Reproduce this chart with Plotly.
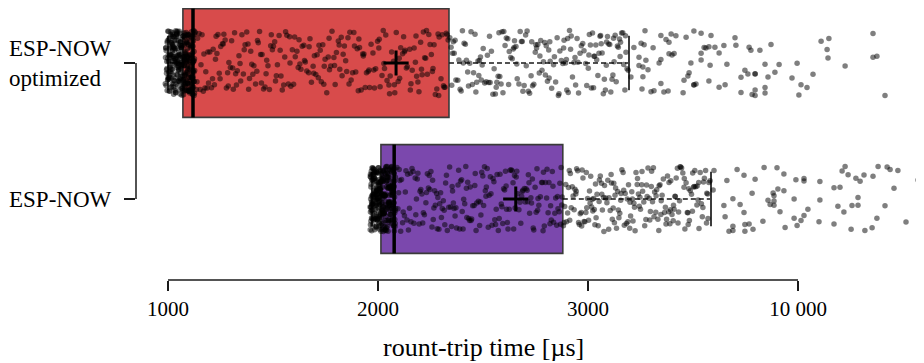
import numpy as np
import plotly.graph_objects as go

# ---------------- data ----------------
categories = ["ESP-NOW<br>optimized", "ESP-NOW"]
box_colors = ["#d84b4b", "#7b48ad"]

q1 = [1071, 2014]
median = [1119, 2077]
q3 = [2338, 2880]
lower_fence = [1000, 1971]
upper_fence = [4367, 7100]
mean = [2086, 2656]

tick_values = [1000, 2000, 3000, 10000]
tick_labels = ["1000", "2000", "3000", "10 000"]

# round-trip samples, ESP-NOW optimized [µs]
opt_cluster = [
    987, 1012, 1035, 1049, 1002, 1058, 1020, 1066, 994, 1041, 1027, 1070, 1008, 1053, 1031, 1016, 1062, 998,
    1045, 1023, 1068, 1004, 1037, 1055, 1013, 1029, 1064, 991, 1047, 1019, 1060, 1033, 1006, 1051, 1025, 1069,
    1010, 1043, 1000, 1057, 1021, 1039, 1065, 996, 1048, 1017, 1061, 1030, 1009, 1054, 1026, 1067, 1003, 1044,
    1036, 1015, 1059, 993, 1050, 1024, 1063, 1007, 1040, 1056, 1018, 1032, 1070, 999, 1046, 1022, 1052, 1011,
    1038, 1066, 989, 1042, 1028, 1060, 1014, 1034, 1057, 1005, 1049, 1020, 1068, 1001, 1044, 1026, 1063, 1010,
    1072, 1098, 1085, 1110, 1077, 1121, 1091, 1104, 1080, 1115, 1088, 1126, 1074, 1101, 1093, 1118, 1083, 1107,
    1076, 1124, 1095, 1112, 1079, 1087, 1103, 1129, 1073, 1116, 1090, 1109, 1082, 1097, 1122, 1075, 1106, 1086,
    1119, 1094, 1078, 1113, 1100, 1127, 1081, 1092, 1108, 1074, 1117, 1089, 1102, 1123, 1084, 1096, 1111, 1077,
    1105, 1125, 1088, 1099, 1114, 1080, 1120, 1093, 1076, 1107, 1085, 1128, 1097, 1112, 1073, 1103, 1091, 1118,
    1082, 1109, 1095, 1124, 1079, 1101, 1115, 1087,
    990, 1015, 1038, 1061, 1083, 1106, 997, 1021, 1044, 1067, 1090, 1113, 1004, 1027, 1050, 1073, 1096, 1119,
    1011, 1034, 1057, 1080, 1102, 1125, 1018, 1041, 1064, 1087, 1109, 993, 1024, 1047, 1070, 1092, 1115, 1001,
    1030, 1053, 1076, 1099, 1121, 1008, 1036, 1059, 1082, 1105, 995, 1013, 1042, 1065, 1088, 1111, 1003, 1019,
    1048, 1071, 1094, 1117, 1010, 1026, 1054, 1077, 1100, 1123, 1016, 1032, 1060, 1083, 1106, 988, 1022, 1039,
    1066, 1089, 1112, 999, 1028, 1045, 1072, 1095, 1118, 1006, 1035, 1051, 1078, 1101, 1124, 1012, 1040, 1058,
    1084, 1108, 991, 1019, 1046, 1063, 1091, 1114, 1002, 1025, 1052, 1069, 1097, 1120, 1009, 1031, 1056, 1075,
    1103, 1126, 1015, 1037, 1062, 1081, 1110, 996, 1023, 1043, 1068, 1086, 1116, 1005, 1029, 1049, 1074, 1093,
    1122, 1014, 1033, 1055, 1079, 1098, 1007, 1020, 1044, 1061, 1085,
]
opt_box = [
    1135, 1148, 1162, 1171, 1186, 1193, 1207, 1215, 1229, 1238, 1244, 1259, 1266, 1278, 1290, 1297, 1311, 1322,
    1330, 1346, 1352, 1367, 1375, 1388, 1394, 1409, 1417, 1430, 1441, 1455, 1462, 1476, 1483, 1497, 1508, 1516,
    1529, 1538, 1551, 1560, 1573, 1585, 1592, 1606, 1614, 1628, 1639, 1647, 1661, 1670, 1683, 1691, 1704, 1716,
    1725, 1737, 1748, 1756, 1769, 1781, 1790, 1802, 1811, 1825, 1834, 1846, 1857, 1866, 1879, 1888, 1901, 1912,
    1920, 1933, 1945, 1953, 1967, 1976, 1989, 1998, 2010, 2019, 2031, 2043, 2052, 2065, 2074, 2087, 2096, 2108,
    2117, 2129, 2140, 2151, 2163, 2172, 2184, 2195, 2203, 2216, 2227, 2235, 2248, 2259, 2267, 2280, 2291, 2300,
    2312, 2325, 2334,
    1141, 1157, 1168, 1180, 1199, 1221, 1233, 1251, 1272, 1284, 1303, 1317, 1338, 1359, 1381, 1399, 1423, 1436,
    1448, 1470, 1489, 1502, 1521, 1544, 1566, 1579, 1598, 1620, 1633, 1654, 1676, 1697, 1710, 1730, 1742, 1763,
    1775, 1796, 1818, 1829, 1851, 1872, 1894, 1906, 1927, 1939, 1960, 1983, 2004, 2025, 2037, 2058, 2080, 2101,
    2122, 2135, 2157, 2178, 2190, 2210, 2222, 2242, 2254, 2273, 2286, 2306, 2319, 2330,
    1138, 1153, 1176, 1190, 1212, 1226, 1248, 1263, 1287, 1308, 1326, 1343, 1363, 1384, 1404, 1426, 1445, 1467,
    1492, 1512, 1534, 1556, 1581, 1603, 1624, 1650, 1672, 1694, 1719, 1744, 1767, 1793, 1815, 1840, 1862, 1885,
    1909, 1930, 1957, 1980, 2006, 2028, 2055, 2078, 2103, 2126, 2154, 2181, 2207, 2231, 2262, 2289, 2315,
]
opt_upper = [
    2342, 2355, 2371, 2380, 2396, 2410, 2421, 2437, 2449, 2462, 2476, 2488, 2501, 2515, 2527, 2540, 2553, 2566,
    2580, 2591, 2605, 2618, 2632, 2644, 2657, 2671, 2683, 2696, 2710, 2722, 2736, 2749, 2761, 2775, 2788, 2801,
    2813, 2827, 2840, 2853, 2866, 2880, 2893, 2906, 2920,
    2348, 2363, 2385, 2402, 2416, 2431, 2455, 2470, 2483, 2496, 2521, 2534, 2547, 2572, 2586, 2599, 2611, 2625,
    2650, 2663, 2677, 2690, 2703, 2716, 2742, 2755, 2768, 2781, 2794, 2807, 2820, 2846, 2859, 2873, 2886, 2899,
    2912, 2926, 2933, 2941, 2948, 2955, 2962, 2975, 2989,
    2351, 2367, 2391, 2427, 2443, 2466, 2492, 2508, 2531, 2559, 2576, 2595, 2622, 2639, 2661, 2687, 2706, 2729,
    2752, 2771, 2797, 2818, 2836, 2862, 2884, 2903, 2917, 2938, 2952, 2968, 2981, 2994, 2359, 2406, 2480, 2563,
    2648, 2732, 2815, 2897,
    3010, 3045, 3080, 3110, 3150, 3185, 3220, 3260, 3290, 3330, 3365, 3400, 3440, 3470, 3510, 3545, 3580, 3620,
    3650, 3690, 3725, 3760, 3800, 3830, 3870, 3905, 3940, 3980, 4010, 4050, 4085, 4120, 4160, 4190, 4230, 4265,
    4300, 4340, 3030, 3200, 3420, 3610, 3850, 4070, 4250,
]
opt_tail = [
    4430, 4530, 4700, 4700, 4770, 4800, 4830, 4830, 4870, 4900, 4930, 5000, 5100, 5170, 5200, 5370, 5430, 5430,
    5430, 5530, 5600, 5670, 5700, 5700, 5770, 5800, 5870, 5930, 6170, 6200, 6270, 6330, 6370, 6430, 6530, 6530,
    6530, 6600, 6770, 6770, 6770, 6870, 6930, 7030, 7030, 7070, 7100, 7230, 7370, 7370, 7530, 7570, 7630, 7900,
    7930, 8100, 8100, 8230, 8330, 8370, 8430, 8470, 8570, 8570, 8570, 8570, 8730, 8900, 8900, 8900, 9000, 9100,
    9230, 9370, 9800, 9970, 10030, 10100, 10300, 10500, 10770, 10970, 11000, 11030, 11570, 12500, 12500, 12630,
    12900,
]

# round-trip samples, ESP-NOW [µs]
std_cluster = [
    1963, 1988, 2001, 1975, 2010, 1969, 1994, 2006, 1981, 1997, 1966, 2012, 1985, 1972, 2003, 1990, 1978, 2008,
    1968, 1999, 1983, 2013, 1974, 1992, 2005, 1964, 1987, 2000, 1979, 2011, 1970, 1995, 2007, 1982, 1998, 1967,
    2009, 1986, 1973, 2002, 1991, 1977, 2014, 1965, 1996, 1984, 2004, 1971, 1993, 2010, 1980, 1989, 1976, 2006,
    1962, 1998, 1985, 2012, 1969, 1994, 2001, 1979, 1990, 1973, 2008, 1966, 1996, 1983, 2003, 1971, 1988, 2013,
    1977, 1999, 1964, 1992, 2005, 1981, 1986, 1975, 2010, 1968, 1997, 1984, 2002, 1972, 1991, 2007, 1978, 2000,
    2015, 2042, 2028, 2061, 2019, 2073, 2036, 2050, 2023, 2068, 2031, 2082, 2017, 2046, 2039, 2065, 2025, 2055,
    2021, 2077, 2034, 2058, 2027, 2044, 2070, 2016, 2052, 2033, 2063, 2024, 2048, 2079, 2020, 2057, 2037, 2071,
    2029, 2045, 2066, 2018, 2053, 2040, 2075, 2026, 2049, 2062, 2022, 2035, 2069, 2043, 2080, 2030, 2056, 2019,
    2047, 2067, 2038, 2074, 2025, 2051, 2032, 2064, 2016, 2041, 2078, 2027, 2054, 2060, 2021, 2036, 2072, 2044,
    2084, 2029, 2059, 2017, 2050, 2076, 2034, 2065,
    1966, 1990, 2013, 2037, 2060, 2083, 1972, 1996, 2019, 2043, 2066, 1978, 2002, 2025, 2049, 2072, 1984, 2008,
    2031, 2055, 2078, 1963, 1993, 2016, 2040, 2063, 1969, 1999, 2022, 2046, 2069, 1975, 2005, 2028, 2052, 2075,
    1981, 2011, 2034, 2058, 2081, 1987, 2017, 2038, 2061, 1964, 1995, 2021, 2044, 2067, 1970, 2001, 2027, 2050,
    2073, 1976, 2007, 2033, 2056, 2079, 1982, 2013, 2039, 2062, 1988, 2019, 2045, 2068, 1967, 1994, 2024, 2051,
    2074, 1973, 2000, 2030, 2057, 2080, 1979, 2006, 2036, 2063, 1985, 2012, 2042, 2070, 1991, 2018, 2048, 2076,
    1965, 1997, 2026, 2054, 2082, 1971, 2003, 2032, 2059, 1977, 2009, 2035, 2065, 1983, 2015, 2041, 2071, 1989,
    2020, 2047, 2077, 1968, 1998, 2023, 2053, 1974, 2004, 2029, 2058, 1980, 2010, 2036, 2064, 1986, 2014, 2043,
    2069, 1992, 2018, 2049, 2075,
]
std_box = [
    2090, 2101, 2112, 2120, 2133, 2141, 2150, 2162, 2171, 2183, 2190, 2204, 2213, 2221, 2235, 2244, 2252, 2266,
    2273, 2285, 2294, 2306, 2315, 2322, 2337, 2346, 2355, 2367, 2374, 2389, 2398, 2405, 2418, 2427, 2439, 2446,
    2458, 2467, 2478, 2490, 2499, 2511, 2520, 2529, 2543, 2552, 2560, 2573, 2581, 2594, 2603, 2612, 2625, 2634,
    2646, 2653, 2665, 2676, 2684, 2697, 2705, 2716, 2728, 2735, 2748, 2757, 2766, 2779, 2788, 2797, 2810, 2819,
    2830, 2842, 2851, 2863, 2872,
    2095, 2108, 2126, 2145, 2157, 2177, 2196, 2209, 2228, 2247, 2260, 2279, 2298, 2311, 2330, 2350, 2362, 2381,
    2401, 2413, 2432, 2451, 2463, 2484, 2503, 2516, 2535, 2556, 2567, 2587, 2607, 2619, 2639, 2658, 2671, 2690,
    2710, 2722, 2742, 2762, 2773, 2792, 2814, 2825, 2846, 2866, 2877,
    2098, 2117, 2138, 2167, 2187, 2200, 2231, 2257, 2270, 2290, 2318, 2341, 2359, 2384, 2408, 2423, 2443, 2470,
    2494, 2507, 2525, 2548, 2577, 2598, 2616, 2629, 2650, 2680, 2701, 2719, 2739, 2753, 2783, 2803, 2822, 2836,
    2857, 2869,
    2104, 2130, 2154, 2180, 2216, 2240, 2263, 2282, 2302, 2326, 2353, 2371, 2393, 2421, 2436, 2461, 2487, 2514,
    2538, 2563, 2590, 2610, 2643, 2661, 2687, 2713, 2731, 2760, 2786, 2805, 2833, 2855, 2875,
]
std_upper = [
    2883, 2889, 2894, 2898, 2903, 2907, 2911, 2916, 2920, 2925, 2929, 2934, 2938, 2942, 2946, 2951, 2955, 2959,
    2963, 2968, 2972, 2976, 2981, 2985, 2990, 2994, 2998, 2886, 2913, 2944, 2970, 2992,
    3020, 3050, 3090, 3120, 3160, 3190, 3230, 3270, 3300, 3340, 3370, 3410, 3450, 3480, 3520, 3550, 3590, 3630,
    3660, 3700, 3740, 3770, 3810, 3840, 3880, 3920, 3950, 3990, 4030, 4060, 4100, 4130, 4170, 4210, 4240, 4280,
    4310, 4350, 4390, 4420, 4460, 4500, 4530, 4570, 4600, 4640, 4680, 4710, 4750, 4790, 4820, 4860, 4890, 4930,
    4970, 5000, 5040, 5080, 5110, 5150, 5180, 5220, 5260, 5290, 5330, 5370, 5400, 5440, 5470, 5510, 5550, 5580,
    5620, 5650, 5690, 5730, 5760, 5800, 5840, 5870, 5910, 5940, 5980, 6020, 6050, 6090, 6120, 6160, 6200, 6230,
    6270, 6310, 6340, 6380, 6410, 6450, 6490, 6520, 6560, 6590, 6630, 6670, 6700, 6740, 6780, 6810, 6850, 6880,
    6920, 6960, 6990, 7030, 7070,
    3070, 3210, 3380, 3530, 3690, 3860, 4010, 4190, 4330, 4480, 4650, 4800, 4950, 5120, 5270, 5430, 5600, 5750,
    5900, 6070, 6210, 6360, 6540, 6690, 6830, 7000, 3140, 3460, 3780, 4090, 4400, 4730, 5060, 5360, 5700, 6000,
    6330, 6640, 6950, 3250, 3900, 4550, 5200, 5850, 6480,
]
std_tail = [
    7170, 7200, 7530, 7570, 7630, 7700, 7830, 7830, 7830, 7970, 8070, 8200, 8200, 8230, 8230, 8370, 8470, 8500,
    8570, 8830, 8870, 9000, 9070, 9170, 9200, 9200, 9200, 9300, 9330, 9400, 9530, 9530, 9570, 9870, 9870, 9930,
    9970, 10100, 10200, 10200, 10200, 10330, 10700, 10730, 10730, 11200, 11200, 11330, 11400, 11470, 11530,
    11570, 11670, 11770, 11800, 11930, 12000, 12000, 12070, 12200, 12230, 12470, 12500, 12630, 12670, 12900,
    12970, 13070, 13200, 13330, 13600, 14000, 14030, 14030,
]

samples = [
    opt_cluster + opt_box + opt_upper + opt_tail,
    std_cluster + std_box + std_upper + std_tail,
]

# ---------------- axis transform (piecewise scale of the reference) ----------------
def to_axis(v):
    v = np.asarray(v, dtype=float)
    return np.where(v <= 2000, (v - 1000) / 1000,
                    np.where(v <= 3000, 1 + (v - 2000) / 1000, 2 + (v - 3000) / 7000))


def jitter(n, seed):
    i = np.arange(n, dtype=float)
    h = np.sin(i * 12.9898 + seed * 78.233) * 43758.5453
    return (h - np.floor(h)) - 0.5


positions = [1, 0]
BOX_H = 0.8
CAP_H = 0.2
JIT = 0.48
EDGE = "#3a3a3a"
INK = "#1a1a1a"

fig = go.Figure()

for k, pos in enumerate(positions):
    fig.add_trace(go.Bar(
        orientation="h", y=[pos], base=[float(to_axis(q1[k]))],
        x=[float(to_axis(q3[k]) - to_axis(q1[k]))], width=BOX_H,
        marker=dict(color=box_colors[k], line=dict(color=EDGE, width=1.6)),
        hoverinfo="skip", showlegend=False,
    ))

for k, pos in enumerate(positions):
    for a, b in ((q3[k], upper_fence[k]), (q1[k], lower_fence[k])):
        fig.add_trace(go.Scatter(
            x=[float(to_axis(a)), float(to_axis(b))], y=[pos, pos], mode="lines",
            line=dict(color=INK, width=1.4, dash="5px,3px"), hoverinfo="skip", showlegend=False,
        ))
    for f in (upper_fence[k], lower_fence[k]):
        fig.add_trace(go.Scatter(
            x=[float(to_axis(f))] * 2, y=[pos - CAP_H, pos + CAP_H], mode="lines",
            line=dict(color="#3c3c3c", width=2), hoverinfo="skip", showlegend=False,
        ))

for k, pos in enumerate(positions):
    s = samples[k]
    fig.add_trace(go.Scatter(
        x=to_axis(s), y=pos + JIT * jitter(len(s), k + 1), mode="markers",
        marker=dict(size=5.5, color="rgba(0,0,0,0.5)", line=dict(width=0)),
        hoverinfo="skip", showlegend=False,
    ))

for k, pos in enumerate(positions):
    fig.add_trace(go.Scatter(
        x=[float(to_axis(median[k]))] * 2, y=[pos - BOX_H / 2, pos + BOX_H / 2], mode="lines",
        line=dict(color="black", width=3.5), hoverinfo="skip", showlegend=False,
    ))
    fig.add_trace(go.Scatter(
        x=[float(to_axis(mean[k]))], y=[pos], mode="markers",
        marker=dict(symbol="cross-thin", size=18, line=dict(color="black", width=3)),
        hoverinfo="skip", showlegend=False,
    ))

FONT = "'Liberation Serif', 'DejaVu Serif', serif"
# page body has an 8px margin, so the figure is 8px smaller than the window
W, H = 916, 355
ymin, ymax = -0.5956, 1.4044
xmin, xmax = (136 - 168) / 210, (924 - 168) / 210

shapes = [
    dict(type="line", xref="x", yref="paper", x0=float(to_axis(tick_values[0])), x1=float(to_axis(tick_values[-1])),
         y0=0, y1=0, line=dict(color=INK, width=1.5)),
    dict(type="line", xref="paper", yref="y", x0=0, x1=0, y0=positions[1], y1=positions[0],
         line=dict(color=INK, width=1.5)),
]

annotations = []
for k, pos in enumerate(positions):
    annotations.append(dict(
        text=categories[k], xref="paper", yref="y", x=0, y=pos, xanchor="right", yanchor="middle",
        xshift=-22, align="left", showarrow=False, font=dict(family=FONT, size=23, color="black"),
    ))
annotations.append(dict(
    text="rount-trip time [µs]", xref="x", yref="paper", x=1.5, y=0, xanchor="center", yanchor="middle",
    yshift=-67, showarrow=False, font=dict(family=FONT, size=26, color="black"),
))

fig.update_layout(
    width=W, height=H,
    margin=dict(l=128, r=0, t=0, b=83, pad=0),
    paper_bgcolor="white", plot_bgcolor="white",
    barmode="overlay", showlegend=False,
    shapes=shapes, annotations=annotations,
    xaxis=dict(
        range=[xmin, xmax], tickvals=[float(t) for t in to_axis(tick_values)], ticktext=tick_labels,
        ticks="outside", ticklen=10, tickwidth=1.5, tickcolor=INK, showline=False, showgrid=False,
        zeroline=False, tickfont=dict(family=FONT, size=21, color="black"),
    ),
    yaxis=dict(
        range=[ymin, ymax], tickvals=positions, ticks="outside", ticklen=11, tickwidth=1.5, tickcolor=INK,
        showticklabels=False, showline=False, showgrid=False, zeroline=False,
    ),
)

fig.write_html("out.html", config={"displayModeBar": False})
